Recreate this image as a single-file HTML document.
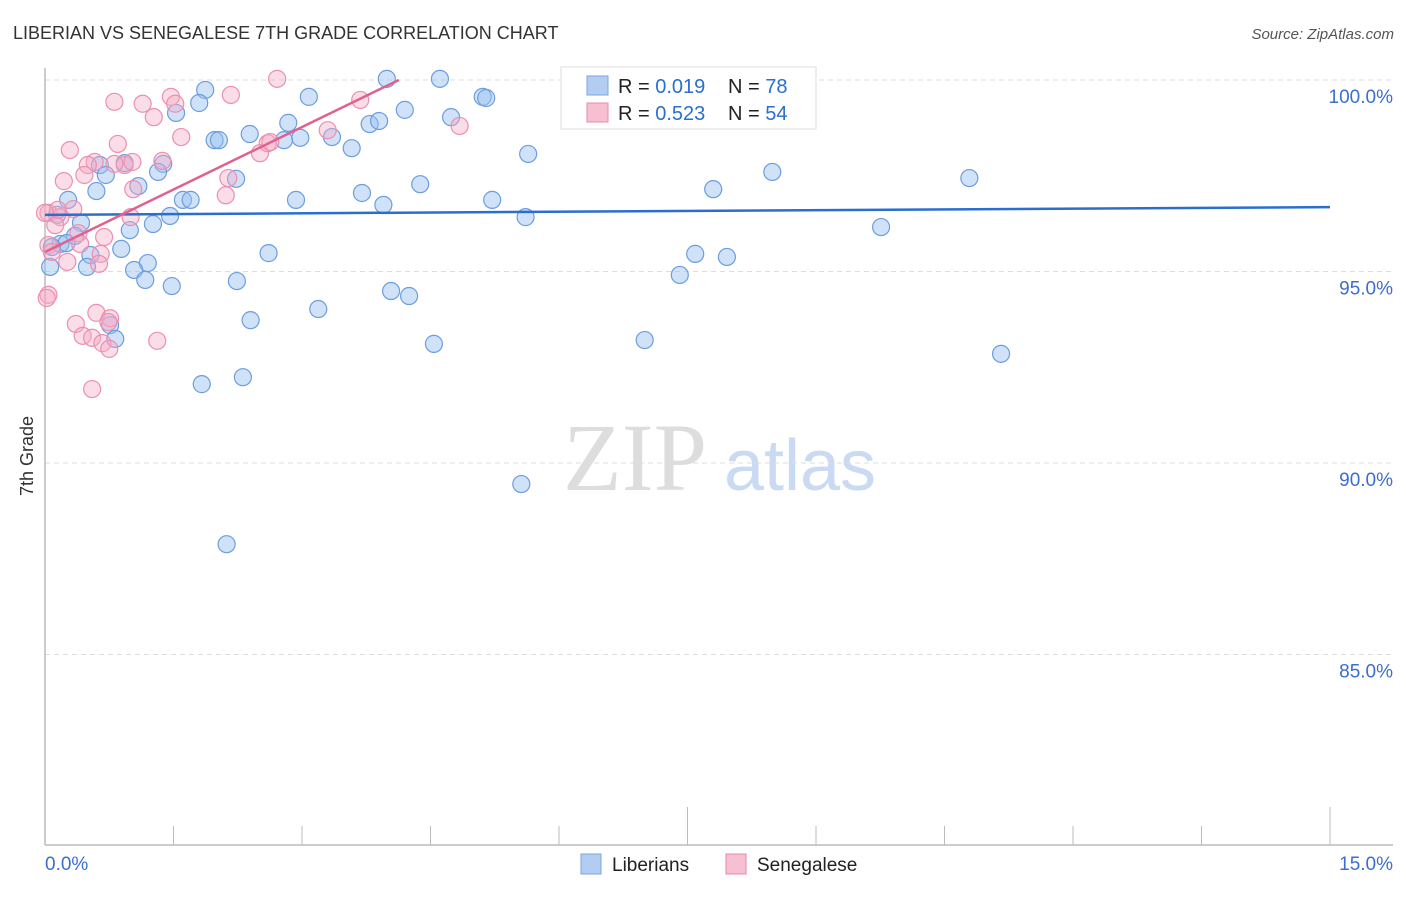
<!DOCTYPE html>
<html><head><meta charset="utf-8"><style>
body{margin:0;background:#fff;width:1406px;height:892px;overflow:hidden;font-family:"Liberation Sans",sans-serif}
</style></head><body>
<svg id="chart" width="1406" height="892" xmlns="http://www.w3.org/2000/svg" font-family="Liberation Sans, sans-serif">
<text x="13" y="39" font-size="18" fill="#333">LIBERIAN VS SENEGALESE 7TH GRADE CORRELATION CHART</text>
<text x="1394" y="39" font-size="15" fill="#555" font-style="italic" text-anchor="end">Source: ZipAtlas.com</text>
<text transform="translate(33,456) rotate(-90)" font-size="18" fill="#333" text-anchor="middle">7th Grade</text>
<g>
<text x="635" y="490" font-size="96" fill="#ddd" font-family="Liberation Serif, serif" text-anchor="middle">ZIP</text>
<text x="800" y="490" font-size="72" fill="#c9daf2" text-anchor="middle">atlas</text>
</g>
<g id="grid"></g><g id="axes"></g><g id="pts"></g><g id="lines"></g>
<g>
<rect x="561" y="67" width="255" height="62" fill="#fff" stroke="#ddd"/>
<rect x="587" y="76" width="21" height="19" fill="#b3cdf2" stroke="#7aa6e0"/>
<rect x="587" y="103" width="21" height="19" fill="#f7c0d2" stroke="#e88aab"/>
<text x="618" y="93" font-size="20" fill="#222">R = <tspan fill="#2a6fd0">0.019</tspan></text>
<text x="728" y="93" font-size="20" fill="#222">N = <tspan fill="#2a6fd0">78</tspan></text>
<text x="618" y="120" font-size="20" fill="#222">R = <tspan fill="#2a6fd0">0.523</tspan></text>
<text x="728" y="120" font-size="20" fill="#222">N = <tspan fill="#2a6fd0">54</tspan></text>
</g>
<g>
<rect x="581" y="854" width="20" height="20" fill="#b3cdf2" stroke="#7aa6e0"/>
<text x="612" y="871" font-size="19" fill="#222">Liberians</text>
<rect x="726" y="854" width="20" height="20" fill="#f7c0d2" stroke="#e88aab"/>
<text x="757" y="871" font-size="19" fill="#222">Senegalese</text>
</g>
</svg>
<script>
const xTicks=[0,1.5,3,4.5,6,7.5,9,10.5,12,13.5,15];
const yGrid=[100,95,90,85];
const yLabels=["100.0%","95.0%","90.0%","85.0%"];
const libX=[3.99,4.61,1.87,3.08,5.11,5.15,1.80,1.53,4.20,4.74,2.84,3.79,3.90,2.39,1.98,2.03,2.79,2.98,3.35,3.58,5.64,0.93,1.38,0.64,1.32,0.71,8.49,10.79,2.23,1.09,4.38,0.60,7.80,3.70,0.27,1.61,1.70,2.93,5.22,3.95,1.46,5.61,0.14,0.42,1.26,9.76,0.99,0.35,0.18,0.25,0.08,0.89,2.61,0.53,7.59,7.96,1.20,0.49,1.04,7.41,1.17,2.24,1.48,4.04,4.25,3.19,2.40,0.76,0.82,4.54,7.00,11.16,2.31,1.83,5.56,2.12,6.24,0.06];
const libY=[100.03,100.03,99.74,99.56,99.56,99.53,99.40,99.14,99.22,99.03,98.88,98.85,98.93,98.59,98.43,98.43,98.43,98.49,98.51,98.22,98.07,97.83,97.81,97.78,97.60,97.52,97.60,97.44,97.42,97.23,97.28,97.10,97.15,97.05,96.87,96.87,96.87,96.87,96.87,96.74,96.45,96.42,96.48,96.27,96.24,96.16,96.08,95.93,95.72,95.74,95.64,95.59,95.48,95.43,95.46,95.38,95.22,95.12,95.04,94.91,94.78,94.75,94.62,94.49,94.36,94.02,93.73,93.60,93.24,93.11,93.21,92.85,92.24,92.06,89.45,87.88,99.35,95.12];
const senX=[2.71,1.47,2.17,0.81,1.14,1.52,3.68,1.27,3.30,4.84,1.59,0.85,0.29,2.51,1.37,0.58,0.50,0.93,0.46,0.22,2.14,1.03,2.11,0.33,0.04,0.18,0.12,0.39,0.69,0.04,0.08,0.41,0.65,0.26,0.63,0.04,0.02,0.60,0.76,0.36,0.44,0.74,0.55,0.67,1.31,0.75,0.55,2.60,1.00,0.15,0.00,1.02,0.81,2.63];
const senY=[100.03,99.56,99.61,99.43,99.38,99.38,99.48,99.03,98.69,98.80,98.51,98.33,98.17,98.09,97.89,97.86,97.78,97.78,97.52,97.36,97.44,97.15,96.99,96.63,96.53,96.42,96.21,96.00,95.90,95.69,95.51,95.72,95.46,95.25,95.20,94.39,94.31,93.92,93.78,93.63,93.32,93.68,93.27,93.13,93.19,92.98,91.93,98.35,96.42,96.61,96.53,97.86,97.81,98.38];
const libTrend=[[0,96.48],[15,96.68]];
const senTrend=[[0,95.51],[4.13,100]];
const NS="http://www.w3.org/2000/svg";
const sx=v=>45+v/15*1285, sy=v=>80+(100-v)*38.3;
function mk(parent,tag,attrs){const e=document.createElementNS(NS,tag);for(const k in attrs)e.setAttribute(k,attrs[k]);document.getElementById(parent).appendChild(e);return e;}
yGrid.forEach((g,i)=>{
 const l=mk('grid','line',{x1:45,x2:1393,y1:sy(g),y2:sy(g),stroke:'#ddd','stroke-dasharray':'5,4'});
 
 
 const t=mk('grid','text',{x:1393,y:sy(g)+23,'font-size':19,fill:'#3a6fd0','text-anchor':'end'});
 t.textContent=yLabels[i];
 
 
});
const ya=mk('axes','line',{x1:45,x2:45,y1:68,y2:845,stroke:'#bbb','stroke-width':1.5});


const xa=mk('axes','line',{x1:45,x2:1393,y1:845,y2:845,stroke:'#bbb','stroke-width':1.5});


xTicks.forEach((t,i)=>{
 const tall=(i===5||i===10);
 const l=mk('axes','line',{x1:sx(t),x2:sx(t),y1:tall?807:826,y2:845,stroke:'#bbb'});
 
 
});
const x0=mk('axes','text',{x:45,y:870,'font-size':19,fill:'#3a6fd0'});x0.textContent='0.0%';


const x1=mk('axes','text',{x:1393,y:870,'font-size':19,fill:'#3a6fd0','text-anchor':'end'});x1.textContent='15.0%';


libX.forEach((x,i)=>{
 const c=mk('pts','circle',{cx:sx(x),cy:sy(libY[i]),r:8.5,fill:'rgba(150,190,240,0.45)',stroke:'#6b9de0','stroke-width':1.2});
 
 
});
senX.forEach((x,i)=>{
 const c=mk('pts','circle',{cx:sx(x),cy:sy(senY[i]),r:8.5,fill:'rgba(245,170,195,0.4)',stroke:'#ec8fb0','stroke-width':1.2});
 
 
});
const lt=mk('lines','line',{x1:sx(libTrend[0][0]),y1:sy(libTrend[0][1]),x2:sx(libTrend[1][0]),y2:sy(libTrend[1][1]),stroke:'#2a6fd0','stroke-width':2.5});


const st=mk('lines','line',{x1:sx(senTrend[0][0]),y1:sy(senTrend[0][1]),x2:sx(senTrend[1][0]),y2:sy(senTrend[1][1]),stroke:'#e0608f','stroke-width':2.5});


</script>
</body></html>
